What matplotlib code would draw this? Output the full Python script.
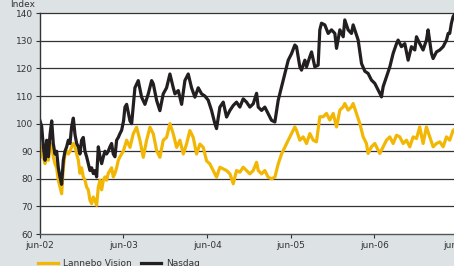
import matplotlib
matplotlib.use("Agg")
import matplotlib.pyplot as plt
import pandas as pd

# years after june 2002 and index values
nasdaq_t = [0.000, 0.020, 0.040, 0.060, 0.080, 0.100, 0.120, 0.140, 0.159, 0.179,
            0.199, 0.219, 0.239, 0.259, 0.279, 0.299, 0.319, 0.339, 0.359, 0.379,
            0.399, 0.419, 0.439, 0.459, 0.478, 0.498, 0.518, 0.538, 0.558, 0.578,
            0.598, 0.618, 0.638, 0.658, 0.678, 0.698, 0.718, 0.738, 0.758, 0.778,
            0.797, 0.817, 0.837, 0.857, 0.877, 0.897, 0.917, 0.937, 0.957, 0.977,
            1.000, 1.017, 1.037, 1.077, 1.097, 1.136, 1.176, 1.216, 1.256, 1.296,
            1.336, 1.356, 1.396, 1.435, 1.475, 1.515, 1.555, 1.595, 1.615, 1.655,
            1.695, 1.734, 1.774, 1.814, 1.854, 1.894, 1.934, 1.974, 2.013, 2.053,
            2.093, 2.113, 2.153, 2.193, 2.233, 2.273, 2.313, 2.352, 2.392, 2.432,
            2.472, 2.512, 2.552, 2.592, 2.612, 2.652, 2.691, 2.731, 2.771, 2.811,
            2.851, 2.891, 2.931, 2.971, 3.011, 3.050, 3.070, 3.110, 3.130, 3.170,
            3.190, 3.230, 3.250, 3.289, 3.329, 3.349, 3.369, 3.409, 3.449, 3.489,
            3.529, 3.549, 3.589, 3.629, 3.648, 3.688, 3.728, 3.748, 3.768, 3.808,
            3.848, 3.888, 3.927, 3.967, 4.007, 4.047, 4.067, 4.087, 4.107, 4.147,
            4.187, 4.227, 4.267, 4.286, 4.326, 4.366, 4.406, 4.446, 4.486, 4.506,
            4.545, 4.585, 4.625, 4.645, 4.685, 4.705, 4.745, 4.785, 4.825, 4.865,
            4.885, 4.904, 4.924, 4.944, 4.970]
nasdaq = [101, 99, 91.6, 86.7, 94, 88, 96, 101, 92.8, 89,
          90, 84, 80.7, 78, 86.7, 90, 91.6, 94, 92.8, 99,
          102, 96, 92.8, 91.6, 89, 94, 95, 90, 88, 85.5,
          83, 84, 81.9, 83, 80.7, 91.6, 88, 85.5, 88, 90,
          89, 90, 91.6, 92.8, 89, 88, 94, 95, 96.4, 97.6,
          101, 106, 107, 101, 100, 113, 115.6, 109.6, 107, 110.8,
          115.6, 114.4, 108.4, 104.7, 110.8, 113, 118, 113, 110.8, 112,
          107, 115.6, 118, 113, 109.6, 113, 110.8, 110, 108.5, 104.8,
          100, 98.2, 106, 107.8, 102.4, 104.8, 106.6, 107.8, 106, 109,
          107.8, 106, 107.2, 111, 106, 104.8, 106, 103.6, 101.2, 100.6,
          108.5, 113.3, 118, 123, 125.4, 128.5, 127.9, 120.6, 119.4, 123,
          120.6, 124.3, 126, 120.6, 121.2, 134, 136.4, 135.8, 132.7, 134,
          132.7, 127.3, 134, 131.5, 137.6, 134, 132.7, 135.8, 134, 130.3,
          121.8, 119, 118.2, 115.8, 114.6, 112.2, 111, 109.7, 113.4, 117,
          120.6, 125.5, 129, 130.3, 127.9, 129, 123, 127.9, 126.7, 131.5,
          129, 126.7, 130.3, 134, 125.5, 123.6, 126, 126.7, 127.9, 130.3,
          132.7, 132.7, 136.4, 138.8, 140]

lannebo_t = [0.000, 0.020, 0.040, 0.060, 0.080, 0.100, 0.120, 0.140, 0.159, 0.179,
             0.199, 0.219, 0.239, 0.259, 0.279, 0.299, 0.319, 0.339, 0.359, 0.379,
             0.399, 0.419, 0.439, 0.459, 0.478, 0.498, 0.518, 0.538, 0.558, 0.578,
             0.598, 0.618, 0.638, 0.658, 0.678, 0.698, 0.718, 0.738, 0.758, 0.778,
             0.797, 0.817, 0.837, 0.857, 0.877, 0.897, 0.917, 0.937, 0.957, 0.977,
             0.997, 1.037, 1.077, 1.116, 1.156, 1.196, 1.236, 1.276, 1.316, 1.356,
             1.396, 1.435, 1.475, 1.515, 1.555, 1.595, 1.635, 1.675, 1.715, 1.754,
             1.794, 1.834, 1.874, 1.914, 1.954, 1.994, 2.033, 2.073, 2.113, 2.153,
             2.193, 2.233, 2.273, 2.313, 2.352, 2.392, 2.432, 2.472, 2.512, 2.552,
             2.592, 2.612, 2.652, 2.691, 2.731, 2.771, 2.811, 2.851, 2.891, 2.931,
             2.971, 3.011, 3.050, 3.070, 3.110, 3.150, 3.190, 3.230, 3.270, 3.309,
             3.349, 3.389, 3.429, 3.469, 3.509, 3.549, 3.589, 3.629, 3.648, 3.688,
             3.728, 3.748, 3.788, 3.828, 3.868, 3.907, 3.927, 3.967, 4.007, 4.027,
             4.067, 4.107, 4.147, 4.187, 4.227, 4.267, 4.306, 4.346, 4.386, 4.426,
             4.466, 4.506, 4.545, 4.585, 4.625, 4.665, 4.705, 4.745, 4.785, 4.825,
             4.865, 4.904, 4.944, 4.970]
lannebo = [92, 88, 88, 85.5, 89, 86.7, 91.6, 92.8, 88, 85.5,
           84, 79.5, 77, 74.6, 84, 89, 90, 89, 90, 91.6,
           92.8, 91.6, 89, 86.7, 82, 84, 80.7, 79.5, 77, 76,
           72.2, 71, 73.4, 72.2, 70.4, 77, 79.5, 76, 79.5, 80.7,
           79.5, 82, 83, 84, 80.7, 82, 84, 86.7, 88, 89,
           90, 94, 91.4, 96.3, 98.7, 94, 87.8, 94, 98.7, 96.3,
           90.2, 87.8, 94, 95, 100, 96.3, 91.4, 94, 89, 92.6,
           97.5, 95, 89, 92.6, 91.4, 86.5, 85.4, 83, 80.6, 84.2,
           83.6, 83, 81.8, 78.2, 83, 82.4, 84.2, 83, 81.8, 83,
           86, 83, 81.8, 83, 80.6, 80, 80.6, 85.4, 89, 91.5,
           94, 96.4, 98.8, 97.6, 94, 95.2, 92.8, 96.4, 94, 93.4,
           102.5, 102.5, 103.7, 101.3, 103.7, 98.8, 104.9, 106.1, 107.3, 104.9,
           106.1, 107.3, 103.7, 100, 95.2, 92.8, 89.2, 91.6, 92.8, 91.6,
           89.2, 91.6, 94, 95.2, 92.8, 95.8, 95.2, 92.8, 94, 91.6,
           95.2, 94.6, 98.8, 92.8, 98.8, 95.2, 91.6, 92.8, 93.4, 91.6,
           95.2, 94, 97.6, 98]

tick_years = [2002, 2003, 2004, 2005, 2006, 2007]
tick_labels = ["jun-02", "jun-03", "jun-04", "jun-05", "jun-06", "jun-07"]
yticks = [60, 70, 80, 90, 100, 110, 120, 130, 140]

start = pd.Timestamp("2002-06-01")
def to_dates(t):
    return [start + pd.Timedelta(days=v * 365.25) for v in t]

bg = "#dde2e5"
yellow = "#f2b705"
black = "#231f20"

fig = plt.figure(figsize=(4.54, 2.66), dpi=100)
fig.patch.set_facecolor(bg)
ax = fig.add_axes([40 / 454, 0.1203, 417.7 / 454, 0.8297])
ax.set_facecolor("white")

l1, = ax.plot(to_dates(lannebo_t), lannebo, color=yellow, lw=2.3,
              solid_joinstyle="round", label="Lannebo Vision")
l2, = ax.plot(to_dates(nasdaq_t), nasdaq, color=black, lw=2.3,
              solid_joinstyle="round", label="Nasdaq")

# grid lines incl. the top one at 140
for v in yticks[1:]:
    ax.axhline(v, color="#333333", lw=0.9, zorder=0, clip_on=False)

ax.set_ylim(60, 140)
ax.set_xlim(start, pd.Timestamp("2007-06-01"))
ax.set_yticks(yticks)
ax.set_yticklabels([str(v) for v in yticks], fontsize=6.5, color="#333333")
ax.set_xticks([pd.Timestamp(f"{y}-06-01") for y in tick_years])
ax.set_xticklabels(tick_labels, fontsize=6.5, color="#333333")
ax.tick_params(length=3, width=0.8, color="#333333", pad=2)

for s in ["top", "right"]:
    ax.spines[s].set_visible(False)
ax.spines["left"].set_color("#333333")
ax.spines["bottom"].set_color("#555555")
ax.spines["left"].set_linewidth(1.0)
ax.spines["bottom"].set_linewidth(1.0)

fig.text(0.022, 0.975, "Index", fontsize=6.5, color="#333333", va="baseline")

fig.legend(handles=[l1, l2], loc="center left", bbox_to_anchor=(0.075, 0.008),
           ncol=2, frameon=False, fontsize=6.5, handlelength=2.2,
           handletextpad=0.6, columnspacing=1.0, borderaxespad=0)
for txt in fig.legends[0].get_texts():
    txt.set_color("#333333")

fig.savefig("out.png", dpi=100, facecolor=bg)
